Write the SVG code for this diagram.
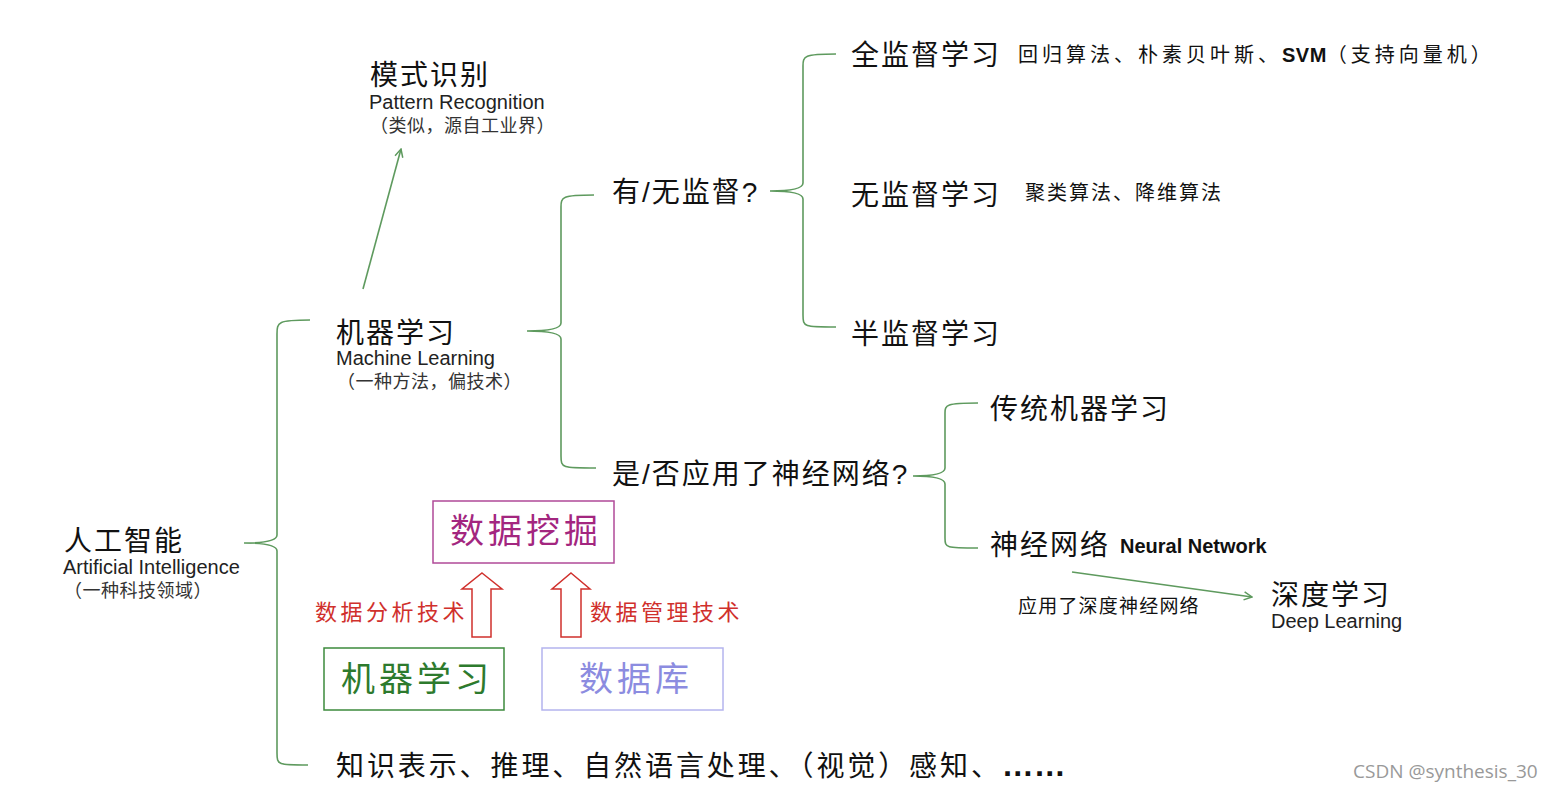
<svg xmlns="http://www.w3.org/2000/svg" width="1554" height="792" viewBox="0 0 1554 792">
<defs>
<style>
.h{font-family:"Liberation Sans","Noto Sans CJK SC",sans-serif;font-size:28px;fill:#111;letter-spacing:2px}
.en{font-family:"Liberation Sans","Noto Sans CJK SC",sans-serif;font-size:20px;fill:#222}
.sub{font-family:"Noto Sans CJK SC",sans-serif;font-size:18px;fill:#333;letter-spacing:0.5px}
.sm{font-family:"Liberation Sans","Noto Sans CJK SC",sans-serif;font-size:20px;fill:#111}
.br{fill:none;stroke:#5e9a5e;stroke-width:1.6}
.big{font-family:"Noto Sans CJK SC",sans-serif;font-size:34px;letter-spacing:4px}
.red{font-family:"Noto Sans CJK SC",sans-serif;font-size:22px;fill:#d0302c;letter-spacing:3.5px}
.hol{fill:#fff;stroke:#d0302c;stroke-width:1.5}
</style>
<marker id="ah" viewBox="0 0 10 10" refX="9" refY="5" markerWidth="10" markerHeight="10" markerUnits="userSpaceOnUse" orient="auto">
<path d="M1 1 L9 5 L1 9" fill="none" stroke="#5e9a5e" stroke-width="1.5"/>
</marker>
</defs>
<rect width="1554" height="792" fill="#fff"/>

<g id="connectors">
<path class="br" d="M310 320 C278 320 277 322 277 334 L277 535 Q277 543 244 543 Q277 543 277 551 L277 753 C277 765 278 765 308 765"/>
<path class="br" d="M594 195 C562 195 561 197 561 207 L561 323 Q561 331 527 331 Q561 331 561 339 L561 456 C561 468 562 468 596 468"/>
<path class="br" d="M836 54 C804 54 803 56 803 66 L803 183 Q803 191 770 191 Q803 191 803 199 L803 315 C803 327 804 327 836 327"/>
<path class="br" d="M978 403 C946 403 945 405 945 413 L945 468 Q945 476 913 476 Q945 476 945 484 L945 538 C945 548 946 548 978 548"/>
<line class="br" x1="363" y1="289" x2="401" y2="149" marker-end="url(#ah)"/>
<line class="br" x1="1072" y1="572" x2="1252" y2="597" marker-end="url(#ah)"/>
<path class="hol" d="M482 573 L502 589 L491 589 L491 637 L472 637 L472 589 L462 589 Z"/>
<path class="hol" d="M571 573 L590 589 L581 589 L581 637 L561 637 L561 589 L552 589 Z"/>
</g>

<g id="ai">
<text class="h" x="64" y="551">人工智能</text>
<text class="en" x="63" y="574">Artificial Intelligence</text>
<text class="sub" x="64" y="597">（一种科技领域）</text>
</g>

<g id="pattern">
<text class="h" x="370" y="85">模式识别</text>
<text class="en" x="369" y="109">Pattern Recognition</text>
<text class="sub" x="370" y="132">（类似，源自工业界）</text>
</g>

<g id="ml">
<text class="h" x="336" y="343">机器学习</text>
<text class="en" x="336" y="365">Machine Learning</text>
<text class="sub" x="337" y="388">（一种方法，偏技术）</text>
</g>

<g id="supervise">
<text class="h" x="612" y="202">有/无监督?</text>
</g>
<g id="full">
<text class="h" x="851" y="65">全监督学习</text>
<text class="sm" x="1018" y="62" style="letter-spacing:4px">回归算法、朴素贝叶斯、<tspan font-weight="bold" style="letter-spacing:0.5px">SVM</tspan>（支持向量机）</text>
</g>
<g id="unsup">
<text class="h" x="851" y="205">无监督学习</text>
<text class="sm" x="1025" y="200" style="letter-spacing:2px">聚类算法、降维算法</text>
</g>
<g id="semi">
<text class="h" x="851" y="344">半监督学习</text>
</g>

<g id="nnq">
<text class="h" x="612" y="484">是/否应用了神经网络?</text>
</g>
<g id="traditional">
<text class="h" x="990" y="419">传统机器学习</text>
</g>
<g id="nn">
<text class="h" x="990" y="555">神经网络</text>
<text class="sm" x="1120" y="553" font-weight="bold">Neural Network</text>
</g>
<g id="dl-label">
<text class="sm" x="1018" y="613" style="font-size:19px;letter-spacing:1.2px">应用了深度神经网络</text>
</g>
<g id="dl">
<text class="h" x="1271" y="605">深度学习</text>
<text class="en" x="1271" y="628">Deep Learning</text>
</g>

<g id="datamining">
<rect x="433" y="501" width="181" height="62" fill="none" stroke="#b04a98" stroke-width="1.5"/>
<text class="big" x="450" y="543" fill="#a3267f">数据挖掘</text>
</g>
<g id="analysis">
<text class="red" x="315" y="620">数据分析技术</text>
</g>
<g id="management">
<text class="red" x="590" y="620">数据管理技术</text>
</g>
<g id="ml-box">
<rect x="324" y="648" width="180" height="62" fill="none" stroke="#3d8a3d" stroke-width="1.5"/>
<text class="big" x="341" y="691" fill="#2d7a2d">机器学习</text>
</g>
<g id="db-box">
<rect x="542" y="648" width="181" height="62" fill="none" stroke="#b4b4ee" stroke-width="1.5"/>
<text class="big" x="579" y="691" fill="#8c8ce0">数据库</text>
</g>

<g id="others">
<text class="h" x="336" y="776" style="letter-spacing:2.9px">知识表示、推理、自然语言处理、（视觉）感知、<tspan font-weight="bold" style="letter-spacing:0px;font-size:32px">……</tspan></text>
</g>

<text x="1353" y="778" font-family="'Open Sans',sans-serif" font-size="19" fill="#999">CSDN @synthesis_30</text>
</svg>
